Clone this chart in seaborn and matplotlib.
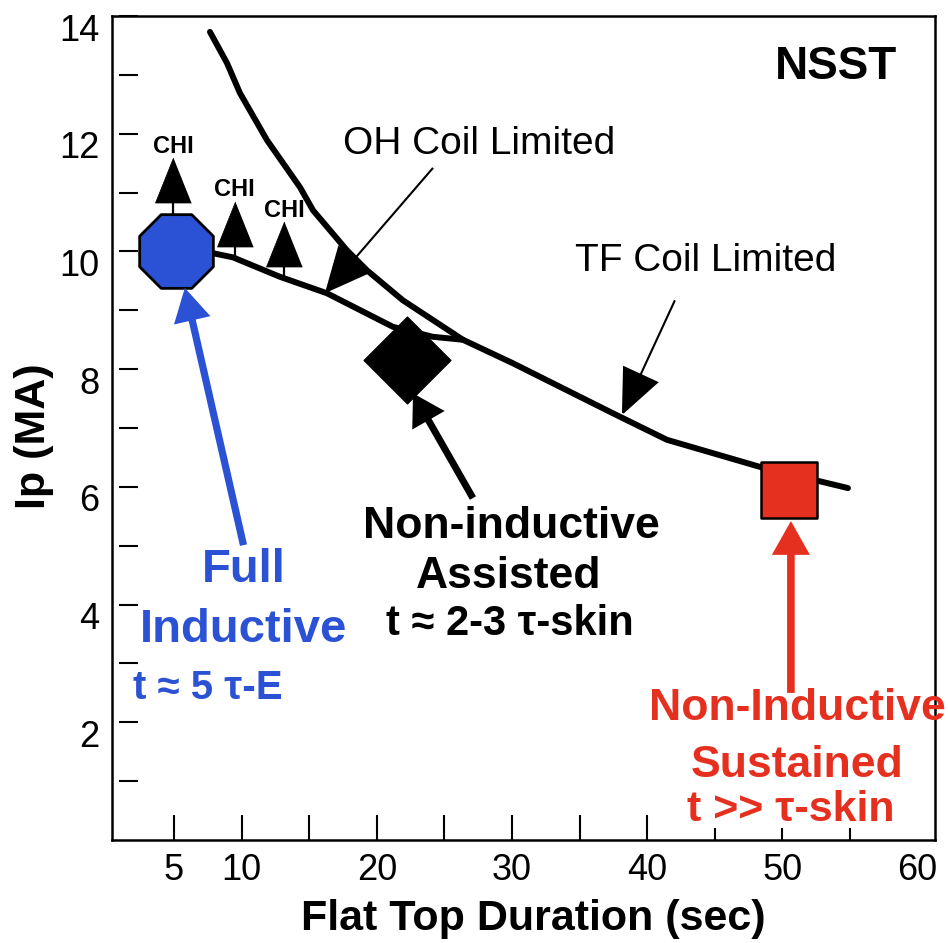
import numpy as np
import pandas as pd
import seaborn as sns
import matplotlib.pyplot as plt
import matplotlib.transforms as mtransforms

# limit curves (sec, MA)
oh_x = [7.66, 8.92, 9.88, 11.88, 14.32, 15.28, 17.79, 19.27, 21.93, 26.37]
oh_y = [13.73, 13.20, 12.69, 11.89, 11.09, 10.70, 10.02, 9.68, 9.17, 8.50]
tf_x = [30.07, 37.47, 41.46, 48.34, 54.85]
tf_y = [8.10, 7.25, 6.80, 6.34, 5.98]
assist_x = [7.88, 9.36, 12.83, 16.31, 21.19, 24.14, 26.37]
assist_y = [9.97, 9.90, 9.57, 9.29, 8.72, 8.55, 8.50]

# operating points
full_ind = (5.16, 10.0)
non_ind_assist = (22.24, 8.15)
non_ind_sust = (50.49, 5.95)

# CHI triangles and the stems below them
chi_x = [4.93, 9.50, 13.13]
chi_y = [11.21, 10.47, 10.12]
chi_low = [10.64, 9.85, 9.58]

# arrows: (start, tip)
oh_arrow = ((24.16, 11.42), (16.16, 9.29))
tf_arrow = ((42.05, 9.17), (38.13, 7.22))
blue_arrow = ((10.14, 5.01), (5.80, 9.38))
black_arrow = ((27.11, 5.81), (22.68, 7.59))
red_arrow = ((50.63, 2.50), (50.63, 5.42))

x_ticks = [5, 10, 15, 20, 25, 30, 35, 40, 45, 50, 55, 60]
x_labels = ['5', '10', '', '20', '', '30', '', '40', '', '50', '', '60']
y_ticks = list(range(1, 15))
y_labels = [str(v) if v % 2 == 0 else '' for v in y_ticks]

blue = '#2b52d4'
red = '#e5301f'

sns.set_style('ticks')
plt.rcParams['font.family'] = ['Liberation Sans', 'DejaVu Sans']
plt.rcParams['text.color'] = 'black'
plt.rcParams['axes.labelcolor'] = 'black'

fig = plt.figure(figsize=(9.48, 9.43), dpi=100)
ax = fig.add_axes([0.1181, 0.1092, 0.8682, 0.8738])

upper = pd.DataFrame({'x': oh_x + tf_x, 'y': oh_y + tf_y})
lower = pd.DataFrame({'x': assist_x, 'y': assist_y})
sns.lineplot(data=upper, x='x', y='y', sort=False, estimator=None, color='black', lw=4.3, ax=ax, zorder=2)
sns.lineplot(data=lower, x='x', y='y', sort=False, estimator=None, color='black', lw=4.3, ax=ax, zorder=2)

# stems + CHI triangles
ax.vlines(chi_x, chi_low, chi_y, color='black', lw=1.6, zorder=3)
tri = [(0, 1), (-0.8, -1), (0.8, -1)]
sns.scatterplot(x=chi_x, y=chi_y, marker=tri, s=1050, color='black', edgecolor='black', linewidth=0.5, ax=ax, zorder=4)
for cx, cy in zip(chi_x, chi_y):
    ax.annotate('CHI', (cx, cy), xytext=(0, 24.5), textcoords='offset points',
                ha='center', va='center', fontsize=17, fontweight='bold', color='black')

# big markers
sns.scatterplot(x=[full_ind[0]], y=[full_ind[1]], marker='8', s=3300, color=blue, edgecolor='black', linewidth=2, ax=ax, zorder=5)
sns.scatterplot(x=[non_ind_assist[0]], y=[non_ind_assist[1]], marker='D', s=1950, color='black', edgecolor='black', linewidth=1, ax=ax, zorder=5)
sns.scatterplot(x=[non_ind_sust[0]], y=[non_ind_sust[1]], marker='s', s=1680, color=red, edgecolor='black', linewidth=1.8, ax=ax, zorder=5)


def arrow(pts, color, lw, hl, hw):
    (x0, y0), (x1, y1) = pts
    ax.annotate('', xy=(x1, y1), xytext=(x0, y0),
                arrowprops=dict(arrowstyle=f'-|>,head_length={hl},head_width={hw}',
                                color=color, lw=lw, shrinkA=0, shrinkB=0,
                                mutation_scale=1, joinstyle='miter', capstyle='butt'),
                zorder=6)


arrow(oh_arrow, 'black', 1.5, 30, 14)
arrow(tf_arrow, 'black', 1.5, 30, 13)
arrow(blue_arrow, blue, 5.2, 16, 9)
arrow(black_arrow, 'black', 5, 15, 9)
arrow(red_arrow, red, 5.5, 16, 9)

# labels
ax.text(53.96, 13.13, 'NSST', ha='center', va='center', fontsize=33, fontweight='bold')
ax.text(27.56, 11.82, 'OH Coil Limited', ha='center', va='center', fontsize=28)
ax.text(44.35, 9.84, 'TF Coil Limited', ha='center', va='center', fontsize=28)

ax.text(10.18, 4.59, 'Full', ha='center', va='center', fontsize=34, fontweight='bold', color=blue)
ax.text(10.18, 3.57, 'Inductive', ha='center', va='center', fontsize=34, fontweight='bold', color=blue)
ax.text(7.51, 2.58, 't ≈ 5 τ-E', ha='center', va='center', fontsize=29, fontweight='bold', color=blue)

ax.text(29.93, 5.33, 'Non-inductive', ha='center', va='center', fontsize=32, fontweight='bold')
ax.text(29.78, 4.47, 'Assisted', ha='center', va='center', fontsize=32, fontweight='bold')
ax.text(29.85, 3.67, 't ≈ 2-3 τ-skin', ha='center', va='center', fontsize=30, fontweight='bold')

ax.text(51.08, 2.23, 'Non-Inductive', ha='center', va='center', fontsize=32, fontweight='bold', color=red)
ax.text(51.08, 1.27, 'Sustained', ha='center', va='center', fontsize=32, fontweight='bold', color=red)
ax.text(50.63, 0.51, 't >> τ-skin', ha='center', va='center', fontsize=31, fontweight='bold', color=red)

# axes
ax.set_xlim(0.41, 61.29)
ax.set_ylim(0, 14)
ax.set_xticks(x_ticks, x_labels)
ax.set_yticks(y_ticks, y_labels)
ax.tick_params(axis='both', direction='in', width=1.5, colors='black', labelsize=26)
ax.tick_params(axis='x', length=18, pad=9)
ax.tick_params(axis='y', length=14, pad=9)

for t, v in zip(ax.xaxis.get_major_ticks(), x_ticks):
    if v >= 45:
        t.tick1line.set_markersize(9)
    if v == 60:
        t.tick1line.set_visible(False)
    t.tick2line.set_visible(False)

shift = mtransforms.ScaledTranslation(7 / 100, 0, fig.dpi_scale_trans)
down = mtransforms.ScaledTranslation(0, -11 / 100, fig.dpi_scale_trans)
for t in ax.yaxis.get_major_ticks():
    t.tick1line.set_transform(t.tick1line.get_transform() + shift)
    t.label1.set_transform(t.label1.get_transform() + down)
    t.tick2line.set_visible(False)

for s in ax.spines.values():
    s.set_linewidth(1.8)
    s.set_color('black')

ax.set_xlabel('Flat Top Duration (sec)', fontsize=31, fontweight='bold', va='center', color='black')
ax.xaxis.set_label_coords(0.512, -0.096)
ax.set_ylabel('Ip (MA)', fontsize=31, fontweight='bold', va='center', color='black')
ax.yaxis.set_label_coords(-0.095, 0.49)

fig.savefig('out.png', dpi=100)
